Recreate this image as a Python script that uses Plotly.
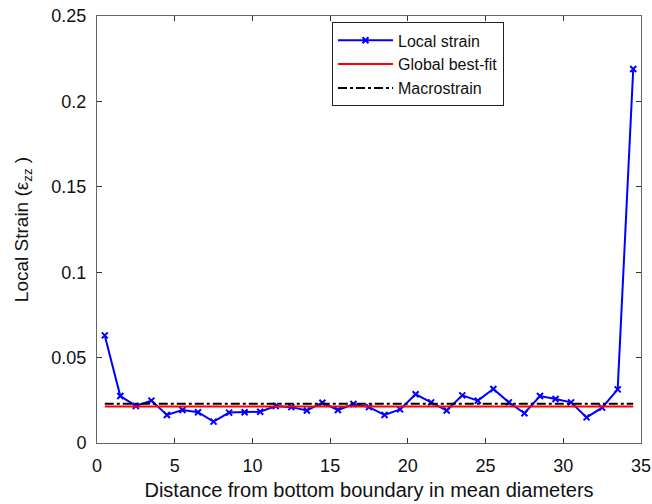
import plotly.graph_objects as go

distance = [0.5, 1.5, 2.5, 3.5, 4.5, 5.5, 6.5, 7.5, 8.5, 9.5, 10.5, 11.5, 12.5, 13.5,
            14.5, 15.5, 16.5, 17.5, 18.5, 19.5, 20.5, 21.5, 22.5, 23.5, 24.5, 25.5,
            26.5, 27.5, 28.5, 29.5, 30.5, 31.5, 32.5, 33.5, 34.5]
local_strain = [0.063, 0.0275, 0.0217, 0.0248, 0.0164, 0.0193, 0.018, 0.0125, 0.0178,
                0.018, 0.0183, 0.0217, 0.021, 0.019, 0.0236, 0.0193, 0.0228, 0.021,
                0.0164, 0.0197, 0.0285, 0.0238, 0.019, 0.0279, 0.0248, 0.0316, 0.0238,
                0.0174, 0.0275, 0.0258, 0.0238, 0.015, 0.0207, 0.0314, 0.219]
fit_x = [0.5, 34.5]
global_fit = [0.0213, 0.0213]
macro_x = [0.5, 34.5]
macrostrain = [0.023, 0.023]

FONT = "Liberation Sans, Arial"

fig = go.Figure()
fig.add_trace(go.Scatter(x=distance, y=local_strain, mode="lines+markers",
                         name="Local strain",
                         line=dict(color="#0000ff", width=2),
                         marker=dict(symbol="x-thin", size=6,
                                     line=dict(color="#0000ff", width=2))))
fig.add_trace(go.Scatter(x=fit_x, y=global_fit, mode="lines", name="Global best-fit",
                         line=dict(color="#ff0000", width=2)))
fig.add_trace(go.Scatter(x=macro_x, y=macrostrain, mode="lines", name="Macrostrain",
                         line=dict(color="#000000", width=2, dash="dashdot")))

axis_common = dict(showline=True, linecolor="#666666", linewidth=1, mirror="ticks",
                   ticks="inside", ticklen=5, tickcolor="#333333", showgrid=False,
                   zeroline=False, automargin=False,
                   tickfont=dict(family=FONT, size=18, color="#111111"))
fig.update_xaxes(range=[0, 35], tickvals=[0, 5, 10, 15, 20, 25, 30, 35],
                 ticklabelstandoff=6,
                 title=dict(text="Distance from bottom boundary in mean diameters",
                            font=dict(family=FONT, size=20, color="#111111"), standoff=8),
                 **axis_common)
fig.update_yaxes(range=[0, 0.25], tickvals=[0, 0.05, 0.1, 0.15, 0.2, 0.25],
                 ticktext=["0", "0.05", "0.1", "0.15", "0.2", "0.25"],
                 ticklabelstandoff=6,
                 title=dict(text="Local Strain (ε<sub>zz</sub> )",
                            font=dict(family=FONT, size=19, color="#111111"), standoff=17),
                 **axis_common)
fig.update_layout(width=652, height=504, margin=dict(l=97, r=11, t=16, b=61),
                  plot_bgcolor="white", paper_bgcolor="white",
                  legend=dict(x=0.432, y=0.985, xanchor="left", yanchor="top",
                              bordercolor="#222222", borderwidth=1, bgcolor="white",
                              font=dict(family=FONT, size=16, color="#111111"),
                              tracegroupgap=1, itemwidth=55))
fig.write_html("out.html")
